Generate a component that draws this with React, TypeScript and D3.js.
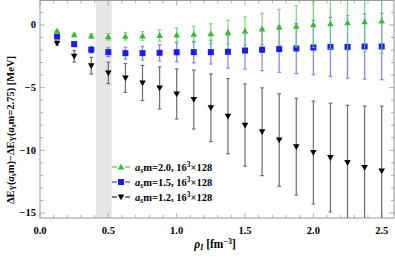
import React from "react";
import * as d3 from "d3";

const rho = [0.125, 0.25, 0.375, 0.5, 0.625, 0.75, 0.875, 1.0, 1.125, 1.25, 1.375, 1.5, 1.625, 1.75, 1.875, 2.0, 2.125, 2.25, 2.375, 2.5];

const greenVal = [-0.48, -0.78, -0.88, -0.95, -0.9, -0.88, -0.85, -0.8, -0.75, -0.71, -0.58, -0.48, -0.32, -0.18, -0.1, 0.02, 0.1, 0.18, 0.26, 0.32];
const greenErr = [0.05, 0.12, 0.18, 0.25, 0.3, 0.35, 0.45, 0.55, 0.65, 0.8, 0.95, 1.12, 1.25, 1.43, 1.65, 1.83, 2.0, 2.2, 2.4, 2.6];

const blueVal = [-0.93, -1.53, -1.98, -2.17, -2.25, -2.25, -2.22, -2.18, -2.17, -2.17, -2.14, -2.04, -1.98, -1.93, -1.88, -1.8, -1.75, -1.75, -1.72, -1.72];
const blueErr = [0.1, 0.15, 0.25, 0.35, 0.48, 0.55, 0.65, 0.75, 0.85, 0.95, 1.3, 1.48, 1.67, 1.85, 2.0, 2.17, 2.35, 2.49, 2.6, 2.65];

const blackVal = [-1.45, -2.5, -3.25, -3.83, -4.23, -4.63, -5.02, -5.5, -5.95, -6.61, -7.28, -7.99, -8.52, -9.18, -9.71, -10.18, -10.58, -10.98, -11.37, -11.64];
const blackErr = [0.15, 0.45, 0.67, 0.85, 1.15, 1.4, 1.68, 2.0, 2.35, 2.7, 3.0, 3.28, 3.5, 3.69, 3.86, 4.1, 4.34, 4.57, 4.9, 5.16];

const xTicks = [0, 0.5, 1.0, 1.5, 2.0, 2.5];
const yTicks = [0, -5, -10, -15];
const band = [0.41, 0.525];

const legendLabels = ["2.0", "1.5", "1.2"];

const W = 395, H = 257;
const L = 40, R = 394, T = 0.5, B = 218;
const FONT = "'Liberation Serif', 'DejaVu Serif', serif";

const GREEN = "#33bb33";
const BLUE = "#1a1aff";
const BLACK = "#000000";

function marker(kind: string, cx: number, cy: number, color: string, key?: any) {
  const s = 3.3;
  if (kind === "up") {
    return <path key={key} d={`M${cx},${cy - s}L${cx + s},${cy + s * 0.75}L${cx - s},${cy + s * 0.75}Z`} fill={color} />;
  }
  if (kind === "down") {
    return <path key={key} d={`M${cx},${cy + s}L${cx + s},${cy - s * 0.75}L${cx - s},${cy - s * 0.75}Z`} fill={color} />;
  }
  return <rect key={key} x={cx - 3} y={cy - 3} width={6} height={6} fill={color} />;
}

export default function App() {
  const x = d3.scaleLinear().domain([0, 2.59]).range([L, R]);
  const y = d3.scaleLinear().domain([-15.4, 1.95]).range([B, T]);

  const series = [
    { vals: blackVal, errs: blackErr, color: BLACK, kind: "down", barColor: "#555555" },
    { vals: blueVal, errs: blueErr, color: BLUE, kind: "square", barColor: "#6b6bff" },
    { vals: greenVal, errs: greenErr, color: GREEN, kind: "up", barColor: "#66cc66" },
  ];

  const xMinor = d3.range(0, 2.59, 0.1);
  const yMinor = d3.range(-15, 2, 1);

  return (
    <svg width={W} height={H} style={{ position: "absolute", left: 0, top: 0 }} fontFamily={FONT}>
      <defs>
        <clipPath id="plotclip">
          <rect x={L} y={T} width={R - L} height={B - T} />
        </clipPath>
      </defs>
      <rect x={0} y={0} width={W} height={H} fill="white" />
      <rect x={x(band[0])} y={T} width={x(band[1]) - x(band[0])} height={B - T} fill="#e6e6e6" />

      {/* frame */}
      <rect x={L} y={T} width={R - L} height={B - T} fill="none" stroke="#999" strokeWidth={1} />

      {/* x ticks */}
      {xMinor.map((v, i) => {
        const major = Math.abs(v * 2 - Math.round(v * 2)) < 1e-6;
        const len = major ? 5 : 3;
        return (
          <g key={"xt" + i} stroke="#999" strokeWidth={0.8}>
            <line x1={x(v)} x2={x(v)} y1={B} y2={B - len} />
            <line x1={x(v)} x2={x(v)} y1={T} y2={T + len} />
          </g>
        );
      })}
      {yMinor.map((v, i) => {
        const major = v % 5 === 0;
        const len = major ? 5 : 3;
        return (
          <g key={"yt" + i} stroke="#999" strokeWidth={0.8}>
            <line x1={L} x2={L + len} y1={y(v)} y2={y(v)} />
            <line x1={R} x2={R - len} y1={y(v)} y2={y(v)} />
          </g>
        );
      })}
      {xTicks.map((v) => (
        <text key={"xl" + v} x={x(v)} y={234} textAnchor="middle" fontSize={10.5} fontWeight="bold">
          {v.toFixed(1)}
        </text>
      ))}
      {yTicks.map((v) => (
        <text key={"yl" + v} x={36} y={y(v) + 3.5} textAnchor="end" fontSize={10.5} fontWeight="bold">
          {v === 0 ? "0" : "\u2212" + Math.abs(v)}
        </text>
      ))}

      {/* data */}
      <g clipPath="url(#plotclip)">
        {series.map((s, si) => (
          <g key={"s" + si}>
            {rho.map((r, i) => {
              const cx = x(r);
              const y1 = y(s.vals[i] + s.errs[i]);
              const y2 = y(s.vals[i] - s.errs[i]);
              return (
                <g key={"e" + i} stroke={s.barColor} strokeWidth={1.2} opacity={0.85}>
                  <line x1={cx} x2={cx} y1={y1} y2={y2} />
                  <line x1={cx - 1.8} x2={cx + 1.8} y1={y1} y2={y1} />
                  <line x1={cx - 1.8} x2={cx + 1.8} y1={y2} y2={y2} />
                </g>
              );
            })}
            {rho.map((r, i) => marker(s.kind, x(r), y(s.vals[i]), s.color, "m" + i))}
          </g>
        ))}
      </g>

      {/* legend */}
      {[
        { color: GREEN, kind: "up" },
        { color: BLUE, kind: "square" },
        { color: BLACK, kind: "down" },
      ].map((e, i) => {
        const ly = 167 + i * 15;
        return (
          <g key={"lg" + i}>
            <line x1={112} x2={117} y1={ly} y2={ly} stroke={e.color} strokeWidth={1} />
            <line x1={125} x2={130} y1={ly} y2={ly} stroke={e.color} strokeWidth={1} />
            {marker(e.kind, 121, ly, e.color)}
            <text x={135} y={ly + 4} fontSize={10.5} fontWeight="bold">
              <tspan fontStyle="italic">a</tspan>
              <tspan fontStyle="italic" fontSize={7.5} dy={2}>s</tspan>
              <tspan dy={-2}>{"m=" + legendLabels[i] + ", 16"}</tspan>
              <tspan fontSize={7.5} dy={-4}>3</tspan>
              <tspan dy={4}>{"\u00d7128"}</tspan>
            </text>
          </g>
        );
      })}

      {/* axis labels */}
      <text x={215} y={248} textAnchor="middle" fontSize={11.5} fontWeight="bold">
        <tspan fontStyle="italic">ρ</tspan>
        <tspan fontStyle="italic" fontSize={8} dy={2}>I</tspan>
        <tspan dy={-2}>{" [fm"}</tspan>
        <tspan fontSize={8} dy={-4.5}>{"\u22123"}</tspan>
        <tspan dy={4.5}>]</tspan>
      </text>
      <text transform="translate(14,130) rotate(-90)" textAnchor="middle" fontSize={10.5} fontWeight="bold">
        <tspan>ΔE</tspan>
        <tspan fontSize={7.5} dy={2}>Υ</tspan>
        <tspan dy={-2}>(</tspan>
        <tspan fontStyle="italic">a</tspan>
        <tspan fontStyle="italic" fontSize={7.5} dy={2}>s</tspan>
        <tspan dy={-2}>{"m)\u2212ΔE"}</tspan>
        <tspan fontSize={7.5} dy={2}>Υ</tspan>
        <tspan dy={-2}>(</tspan>
        <tspan fontStyle="italic">a</tspan>
        <tspan fontStyle="italic" fontSize={7.5} dy={2}>s</tspan>
        <tspan dy={-2}>{"m=2.75) [MeV]"}</tspan>
      </text>
    </svg>
  );
}
